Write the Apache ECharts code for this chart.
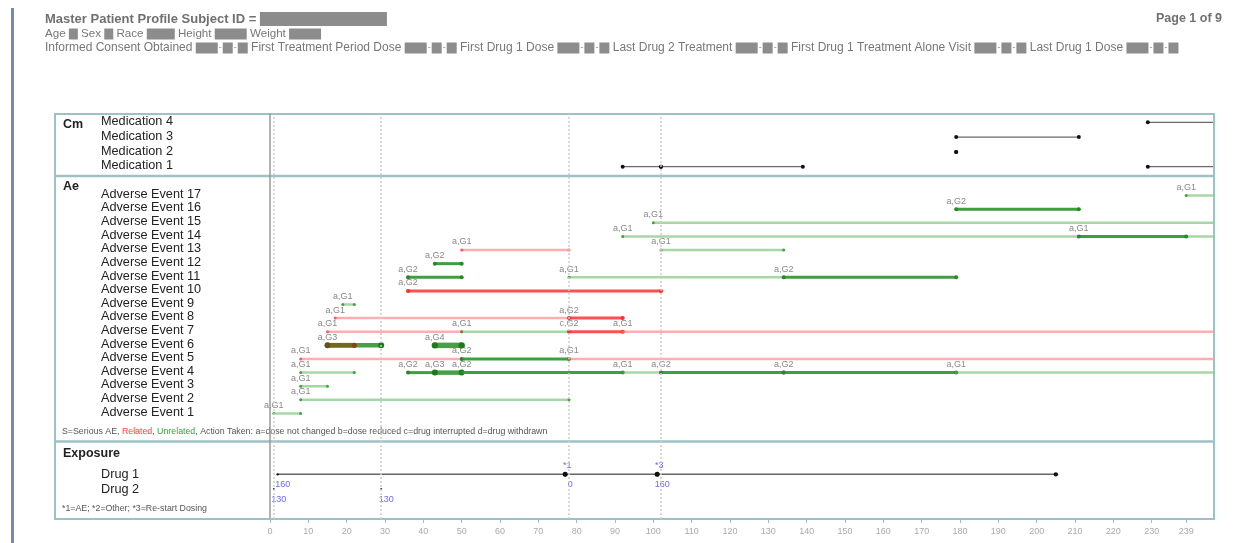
<!DOCTYPE html>
<html>
<head>
<meta charset="utf-8">
<script src="https://cdn.jsdelivr.net/npm/echarts@6/dist/echarts.min.js"></script>
<style>
  html, body { margin: 0; padding: 0; background: #fff; }
  #profile { width: 1248px; height: 543px; }
</style>
</head>
<body>
<div id="profile"></div>
<script>
// study day axis
var DAY_MAX = 246;
var dayTicks = [0, 10, 20, 30, 40, 50, 60, 70, 80, 90, 100, 110, 120, 130, 140, 150, 160, 170, 180, 190, 200, 210, 220, 230, 239];
var refDays = [1, 29, 78, 102];

// concomitant medications (bottom to top), spans: [row, start, end] end null = ongoing
var cmRows = ['Medication 1', 'Medication 2', 'Medication 3', 'Medication 4'];
var cmSpans = [
  [3, 229, null],
  [2, 179, 211],
  [1, 179, 179],
  [0, 92, 102], [0, 102, 139], [0, 229, null]
];

// adverse events, spans: [row, start, end, label, related, grade]
var aeRows = ['Adverse Event 1', 'Adverse Event 2', 'Adverse Event 3', 'Adverse Event 4', 'Adverse Event 5',
  'Adverse Event 6', 'Adverse Event 7', 'Adverse Event 8', 'Adverse Event 9', 'Adverse Event 10',
  'Adverse Event 11', 'Adverse Event 12', 'Adverse Event 13', 'Adverse Event 14', 'Adverse Event 15',
  'Adverse Event 16', 'Adverse Event 17'];
var aeSpans = [
  [0, 1, 8, 'a,G1', 0, 1],
  [1, 8, 78, 'a,G1', 0, 1],
  [2, 8, 15, 'a,G1', 0, 1],
  [3, 8, 22, 'a,G1', 0, 1], [3, 36, 43, 'a,G2', 0, 2], [3, 43, 50, 'a,G3', 0, 3], [3, 50, 92, 'a,G2', 0, 2],
  [3, 92, 102, 'a,G1', 0, 1], [3, 102, 134, 'a,G2', 0, 2], [3, 134, 179, 'a,G2', 0, 2], [3, 179, null, 'a,G1', 0, 1],
  [4, 8, 50, 'a,G1', 1, 1], [4, 50, 78, 'a,G2', 0, 2], [4, 78, null, 'a,G1', 1, 1],
  [5, 15, 29, 'a,G3', 0, 3], [5, 15, 22, '', 1, 3], [5, 43, 50, 'a,G4', 0, 4],
  [6, 15, 50, 'a,G1', 1, 1], [6, 50, 78, 'a,G1', 0, 1], [6, 78, 92, 'c,G2', 1, 2], [6, 92, null, 'a,G1', 1, 1],
  [7, 17, 78, 'a,G1', 1, 1], [7, 78, 92, 'a,G2', 1, 2],
  [8, 19, 22, 'a,G1', 0, 1],
  [9, 36, 102, 'a,G2', 1, 2],
  [10, 36, 50, 'a,G2', 0, 2], [10, 78, 134, 'a,G1', 0, 1], [10, 134, 179, 'a,G2', 0, 2],
  [11, 43, 50, 'a,G2', 0, 2],
  [12, 50, 78, 'a,G1', 1, 1], [12, 102, 134, 'a,G1', 0, 1],
  [13, 92, null, 'a,G1', 0, 1], [13, 211, 239, 'a,G1', 0, 2],
  [14, 100, null, 'a,G1', 0, 1],
  [15, 179, 211, 'a,G2', 0, 2],
  [16, 239, null, 'a,G1', 0, 1]
];

// exposure, spans: [row, start, end, dose, reason]
var drugRows = ['Drug 1', 'Drug 2'];
var doseSpans = [
  [0, 2, 77, '160', ''],
  [0, 77, 101, '0', '*1'],
  [0, 101, 205, '160', '*3'],
  [1, 1, 1, '130', ''],
  [1, 29, 29, '130', '']
];

var FONT = 'Liberation Sans, Arial, sans-serif';
var FRAME = '#9cc2c4';

// line look per relatedness / grade: [stroke, width, dot colour, dot radius]
var aeLook = {
  1: { 1: ['rgba(255,110,110,0.55)', 2.5, '#ff5a5a', 1.5], 2: ['#ff5050', 3, '#ff2a2a', 2], 3: ['rgba(140,70,10,0.6)', 5, '#7a4a14', 2.6] },
  0: { 1: ['rgba(80,175,80,0.5)', 2.5, '#45a045', 1.5], 2: ['#3f9f3f', 3, '#258a25', 2], 3: ['rgba(25,135,25,0.8)', 4.5, '#1c7a1c', 3], 4: ['rgba(25,135,25,0.8)', 5.5, '#1c7a1c', 3.2] }
};

function spanData(list) {
  return list.map(function (s) { return [s[0], s[1], s[2] == null ? DAY_MAX : s[2]]; });
}

function dot(p, r, color) {
  return { type: 'circle', shape: { cx: p[0], cy: p[1], r: r }, style: { fill: color } };
}

function cmItem(params, api) {
  var s = cmSpans[params.dataIndex];
  var p0 = api.coord([api.value(1), api.value(0)]);
  var p1 = api.coord([api.value(2), api.value(0)]);
  var kids = [{ type: 'line', shape: { x1: p0[0], y1: p0[1], x2: p1[0], y2: p1[1] }, style: { stroke: '#444', lineWidth: 1 } }];
  kids.push(dot(p0, 2, '#111'));
  if (s[2] != null) kids.push(dot(p1, 2, '#111'));
  return { type: 'group', children: kids };
}

function aeItem(params, api) {
  var s = aeSpans[params.dataIndex];
  var look = aeLook[s[4]][s[5]];
  var p0 = api.coord([api.value(1), api.value(0)]);
  var p1 = api.coord([api.value(2), api.value(0)]);
  var kids = [{ type: 'line', shape: { x1: p0[0], y1: p0[1], x2: p1[0], y2: p1[1] }, style: { stroke: look[0], lineWidth: look[1] } }];
  kids.push(dot(p0, look[3], look[2]));
  if (s[2] != null) kids.push(dot(p1, look[3], look[2]));
  if (s[3]) {
    kids.push({ type: 'text', x: p0[0], y: p0[1] - 8,
      style: { text: s[3], fill: '#888', font: '9px ' + FONT, align: 'center', verticalAlign: 'middle' } });
  }
  return { type: 'group', children: kids };
}

function doseItem(params, api) {
  var s = doseSpans[params.dataIndex];
  var p0 = api.coord([api.value(1), api.value(0)]);
  var p1 = api.coord([api.value(2), api.value(0)]);
  var point = s[1] === s[2];
  var kids = [];
  if (!point) {
    kids.push({ type: 'line', shape: { x1: p0[0], y1: p0[1], x2: p1[0], y2: p1[1] }, style: { stroke: '#666', lineWidth: 1.5 } });
    kids.push(dot(p0, s[4] ? 2.5 : 1.2, '#111'));
    kids.push(dot(p1, 2.2, '#111'));
  } else {
    kids.push(dot(p0, 1, '#333'));
  }
  kids.push({ type: 'text', x: p0[0] + 5, y: p0[1] + 10,
    style: { text: s[3], fill: '#6b6bf2', font: '9px ' + FONT, align: 'center', verticalAlign: 'middle' } });
  if (s[4]) {
    kids.push({ type: 'text', x: p0[0] + 2, y: p0[1] - 9,
      style: { text: s[4], fill: '#6b6bf2', font: '9px ' + FONT, align: 'center', verticalAlign: 'middle' } });
  }
  return { type: 'group', children: kids };
}

function rowLabel(lift) {
  return {
    margin: 169, align: 'left', interval: 0,
    formatter: '{n|{value}}',
    rich: { n: { fontSize: 12.7, color: '#222', fontFamily: FONT, padding: [0, 0, lift, 0] } }
  };
}
var hidden = { show: false };

var myChart = echarts.init(document.getElementById('profile'));
var option = {
  animation: false,
  grid: [
    { left: 270, width: 943, top: 114.9, height: 59.2 },
    { left: 270, width: 943, top: 188.7, height: 231.6 },
    { left: 270, width: 943, top: 467, height: 29.4 },
    { left: 270, width: 943, top: 114, height: 405 }
  ],
  xAxis: [
    { gridIndex: 0, type: 'value', min: 0, max: DAY_MAX, show: false },
    { gridIndex: 1, type: 'value', min: 0, max: DAY_MAX, show: false },
    { gridIndex: 2, type: 'value', min: 0, max: DAY_MAX, show: false },
    {
      gridIndex: 3, type: 'value', min: 0, max: DAY_MAX,
      splitLine: hidden,
      axisLine: { lineStyle: { color: FRAME, width: 2 } },
      axisTick: { show: true, length: 4, lineStyle: { color: FRAME }, customValues: dayTicks },
      axisLabel: { color: '#aaa', fontSize: 9, fontFamily: FONT, margin: 8, customValues: dayTicks }
    }
  ],
  yAxis: [
    { gridIndex: 0, type: 'category', data: cmRows, axisLine: hidden, axisTick: hidden, axisLabel: rowLabel(1.5) },
    { gridIndex: 1, type: 'category', data: aeRows, axisLine: hidden, axisTick: hidden, axisLabel: rowLabel(2.5) },
    { gridIndex: 2, type: 'category', data: drugRows, inverse: true, axisLine: hidden, axisTick: hidden, axisLabel: rowLabel(0) },
    { gridIndex: 3, type: 'value', min: 0, max: 1, splitLine: hidden, axisTick: hidden, axisLabel: hidden,
      axisLine: { show: true, lineStyle: { color: '#9a9a9a', width: 1.5 } } }
  ],
  series: [
    {
      type: 'line', xAxisIndex: 3, yAxisIndex: 3, data: [],
      markLine: {
        silent: true, symbol: 'none', label: hidden,
        lineStyle: { type: [2, 2], color: '#cdcdcd', width: 1.5 },
        data: refDays.map(function (d) { return { xAxis: d }; })
      }
    },
    { type: 'custom', xAxisIndex: 0, yAxisIndex: 0, renderItem: cmItem, encode: { x: [1, 2], y: 0 }, data: spanData(cmSpans) },
    { type: 'custom', xAxisIndex: 1, yAxisIndex: 1, renderItem: aeItem, encode: { x: [1, 2], y: 0 }, data: spanData(aeSpans) },
    { type: 'custom', xAxisIndex: 2, yAxisIndex: 2, renderItem: doseItem, encode: { x: [1, 2], y: 0 }, data: spanData(doseSpans) }
  ],
  graphic: [
    // left page bar
    { type: 'rect', shape: { x: 11, y: 8, width: 3, height: 535 }, style: { fill: '#7a89ab' } },
    // header
    { type: 'text', x: 45, y: 19, style: {
      text: '{t|Master Patient Profile Subject ID = }{id|}', verticalAlign: 'middle',
      rich: { t: { font: 'bold 13px ' + FONT, fill: '#707070' }, id: { width: 127, height: 14, backgroundColor: '#8c8c8c' } } } },
    { type: 'text', x: 1222, y: 19, style: { text: 'Page 1 of 9', font: 'bold 12.5px ' + FONT, fill: '#707070', align: 'right', verticalAlign: 'middle' } },
    { type: 'text', x: 45, y: 34, style: {
      text: '{t|Age }{b|}{t| Sex }{b|}{t| Race }{b3|}{t| Height }{b4|}{t| Weight }{b4|}', verticalAlign: 'middle',
      rich: {
        t: { font: '11.6px ' + FONT, fill: '#777' },
        b: { width: 9, height: 11, backgroundColor: '#8c8c8c' },
        b3: { width: 28, height: 11, backgroundColor: '#8c8c8c' },
        b4: { width: 32, height: 11, backgroundColor: '#8c8c8c' }
      } } },
    { type: 'text', x: 45, y: 48, style: {
      text: ['Informed Consent Obtained', 'First Treatment Period Dose', 'First Drug 1 Dose', 'Last Drug 2 Treatment',
        'First Drug 1 Treatment Alone Visit', 'Last Drug 1 Dose'].map(function (s) {
        return '{t|' + s + ' }{d|}{s|-}{e|}{s|-}{e|}{t| }';
      }).join(''),
      verticalAlign: 'middle',
      rich: {
        t: { font: '12px ' + FONT, fill: '#777' },
        d: { width: 22, height: 11, backgroundColor: '#8c8c8c' },
        e: { width: 10, height: 11, backgroundColor: '#8c8c8c' },
        s: { width: 5, font: '9px ' + FONT, fill: '#8c8c8c', align: 'center' }
      } } },
    // panel frames
    { type: 'rect', shape: { x: 55, y: 114, width: 1159, height: 405 }, style: { fill: 'none', stroke: FRAME, lineWidth: 2 } },
    { type: 'line', shape: { x1: 55, y1: 176, x2: 1214, y2: 176 }, style: { stroke: FRAME, lineWidth: 2.5 } },
    { type: 'line', shape: { x1: 55, y1: 441.5, x2: 1214, y2: 441.5 }, style: { stroke: FRAME, lineWidth: 2.5 } },
    // panel titles
    { type: 'text', x: 63, y: 125, style: { text: 'Cm', font: 'bold 12.5px ' + FONT, fill: '#222', verticalAlign: 'middle' } },
    { type: 'text', x: 63, y: 187, style: { text: 'Ae', font: 'bold 12.5px ' + FONT, fill: '#222', verticalAlign: 'middle' } },
    { type: 'text', x: 63, y: 454, style: { text: 'Exposure', font: 'bold 12.5px ' + FONT, fill: '#222', verticalAlign: 'middle' } },
    // notes
    { type: 'text', x: 62, y: 432, style: {
      text: '{t|S=Serious AE, }{r|Related}{t|, }{g|Unrelated}{t|, Action Taken: a=dose not changed b=dose reduced c=drug interrupted d=drug withdrawn}',
      verticalAlign: 'middle',
      rich: {
        t: { font: '8.8px ' + FONT, fill: '#555' },
        r: { font: '8.8px ' + FONT, fill: '#ff4040' },
        g: { font: '8.8px ' + FONT, fill: '#3ca03c' }
      } } },
    { type: 'text', x: 62, y: 509, style: { text: '*1=AE; *2=Other; *3=Re-start Dosing', font: '8.8px ' + FONT, fill: '#555', verticalAlign: 'middle' } }
  ]
};
myChart.setOption(option);
</script>
</body>
</html>
